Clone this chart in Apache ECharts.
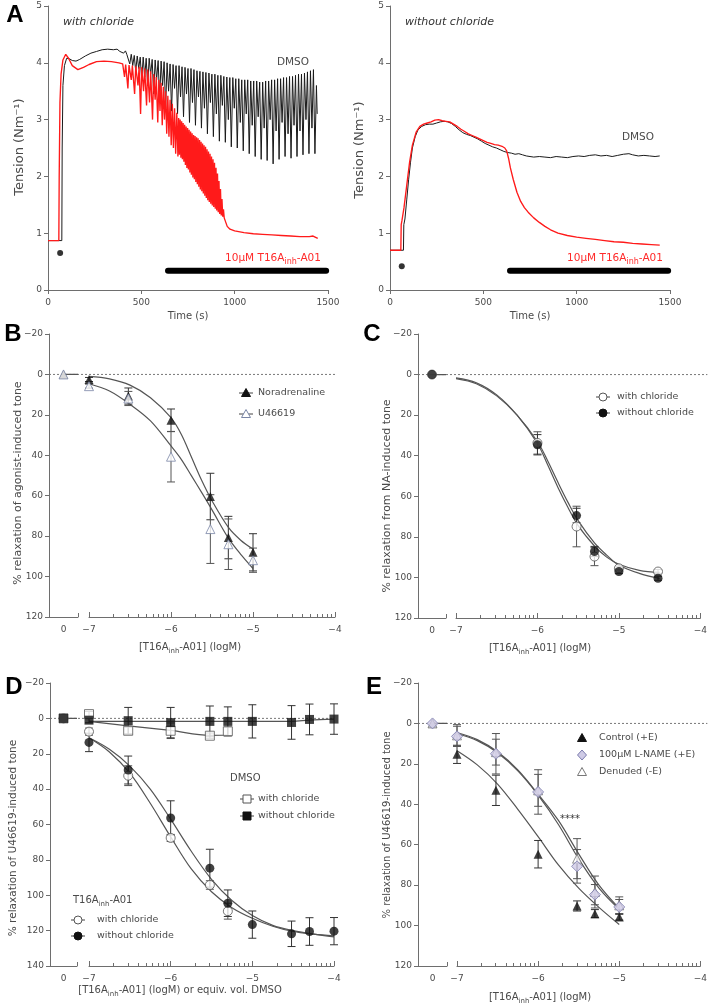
<!DOCTYPE html>
<html><head><meta charset="utf-8">
<script src="https://cdn.jsdelivr.net/npm/echarts@6/dist/echarts.min.js"></script>
<style>html,body{margin:0;padding:0;background:#fff}#c{width:710px;height:1004px}</style>
</head><body><div id="c"></div>
<script>
// ================= DATA =================
// Panel A: tension traces [time (s), tension (N/m)]
const dmsoWithCl = [[0,0.87],[74,0.87],[76,2.5],[80,3.6],[88,3.95],[100,4.08],[115,4.07],[130,4.04],[150,4.03],[170,4.06],[200,4.12],[230,4.17],[260,4.2],[290,4.23],[320,4.24],[350,4.23],[370,4.24],[385,4.2],[395,4.23],[405,4.17],[415,4.21],[422,4.15],
[430,4.16],[438,3.98],[446,4.15],[454,3.95],[462,4.13],[470,3.85],[478,4.12],[486,3.9],[494,4.1],[502,3.7],[510,4.1],[518,3.75],[526,4.08],[534,3.6],[542,4.08],[550,3.8],[558,4.06],[566,3.45],[574,4.05],[582,3.7],[590,4.04],[598,3.35],[606,4.03],[614,3.6],[622,4.02],[630,3.2],[638,4.0],[646,3.5],[654,3.98],[662,3.15],[670,3.97],[678,3.55],[686,3.95],[694,3.1],[702,3.95],[710,3.4],[718,3.93],[726,3.05],[734,3.92],[742,3.45],[750,3.9],[758,2.95],[766,3.9],[774,3.3],[782,3.88],[790,2.9],[798,3.86],[806,3.4],[814,3.85],[822,2.85],[830,3.84],[838,3.2],[846,3.83],[854,2.75],[862,3.82],[870,3.3],[878,3.8],[886,2.7],[894,3.8],[902,3.1],[910,3.78],[918,2.62],[926,3.78],[934,3.25],[942,3.76],[950,2.6],[958,3.75],[966,3.0],[974,3.74],[982,2.52],[990,3.74],[998,3.2],[1006,3.72],[1014,2.5],[1022,3.72],[1030,2.95],[1038,3.7],[1046,2.45],[1054,3.7],[1062,3.1],[1070,3.7],[1078,2.4],[1086,3.68],[1094,2.9],[1102,3.68],[1110,2.35],[1118,3.68],[1126,3.05],[1134,3.66],[1142,2.3],[1150,3.66],[1158,2.85],[1166,3.68],[1174,2.28],[1182,3.68],[1190,3.0],[1198,3.7],[1206,2.22],[1214,3.7],[1222,2.8],[1230,3.72],[1238,2.3],[1246,3.72],[1254,2.95],[1262,3.74],[1270,2.35],[1278,3.74],[1286,2.75],[1294,3.76],[1302,2.32],[1310,3.76],[1318,2.9],[1326,3.78],[1334,2.35],[1342,3.8],[1350,2.8],[1358,3.8],[1366,2.38],[1374,3.82],[1382,3.0],[1390,3.84],[1398,2.4],[1406,3.86],[1414,2.85],[1422,3.88],[1430,2.4],[1438,3.6],[1442,3.1]];
const inhWithCl = [[0,0.87],[58,0.87],[60,2.0],[64,3.3],[70,3.8],[80,4.05],[95,4.15],[110,4.08],[130,3.95],[160,3.88],[190,3.92],[220,3.97],[260,4.02],[300,4.03],[340,4.02],[380,4.0],[400,3.98],
[410,3.75],[416,3.97],[428,3.55],[434,3.96],[446,3.7],[452,3.95],[464,3.45],[470,3.94],[482,3.6],[488,3.93],[496,3.1],[502,3.92],[512,3.5],[518,3.9],[528,3.25],[534,3.88],[544,3.3],[550,3.85],[560,3.0],[566,3.8],[574,3.35],[580,3.75],[588,2.95],[594,3.7],[600,3.15],[606,3.65],[612,2.9],[618,3.58],[624,3.0],[630,3.5],[636,2.75],[642,3.42],[648,2.7],[654,3.35],[660,2.55],[666,3.28],[672,2.5],[678,3.2],[684,2.4],[690,3.12],[696,2.35],
[700,3.03],[704,2.38],[708,3.0],[712,2.33],[716,2.97],[720,2.3],[724,2.94],[728,2.26],[732,2.91],[736,2.2],[740,2.88],[744,2.15],[748,2.85],[752,2.12],[756,2.82],[760,2.07],[764,2.79],[768,2.03],[772,2.76],[776,1.98],[780,2.73],[784,1.95],[788,2.71],[792,1.9],[796,2.69],[800,1.86],[804,2.67],[808,1.82],[812,2.64],[816,1.77],[820,2.61],[824,1.74],[828,2.58],[832,1.7],[836,2.55],[840,1.66],[844,2.52],[848,1.62],[852,2.48],[856,1.58],[860,2.44],[864,1.55],[868,2.4],[872,1.52],[876,2.35],[880,1.49],[884,2.3],[888,1.46],[892,2.24],[896,1.43],[900,2.15],[904,1.4],[908,2.05],[912,1.37],[916,1.92],[920,1.34],[924,1.78],[928,1.31],[932,1.6],[936,1.29],[940,1.42],[944,1.27],[948,1.25],
[960,1.12],[975,1.07],[1000,1.04],[1050,1.01],[1100,0.99],[1150,0.98],[1200,0.97],[1250,0.96],[1300,0.95],[1350,0.94],[1400,0.94],[1420,0.95],[1430,0.93],[1445,0.91]];
const dmsoNoCl = [[0,0.7],[72,0.7],[74,1.15],[80,1.25],[90,1.6],[100,1.95],[110,2.25],[120,2.5],[135,2.7],[150,2.82],[170,2.88],[190,2.91],[210,2.92],[230,2.92],[250,2.94],[270,2.96],[290,2.97],[310,2.96],[330,2.93],[350,2.88],[370,2.82],[390,2.77],[410,2.74],[430,2.72],[450,2.69],[470,2.66],[490,2.62],[510,2.58],[530,2.55],[550,2.52],[570,2.5],[590,2.47],[610,2.44],[630,2.42],[650,2.41],[670,2.39],[690,2.4],[710,2.38],[730,2.36],[750,2.35],[770,2.34],[800,2.35],[830,2.34],[860,2.33],[890,2.35],[920,2.34],[950,2.33],[980,2.35],[1010,2.36],[1040,2.35],[1070,2.37],[1100,2.38],[1130,2.36],[1160,2.37],[1190,2.35],[1220,2.37],[1250,2.39],[1280,2.4],[1300,2.38],[1330,2.36],[1360,2.37],[1390,2.36],[1420,2.35],[1445,2.36]];
const inhNoCl = [[0,0.7],[58,0.7],[60,1.15],[64,1.22],[75,1.45],[90,1.85],[105,2.25],[120,2.55],[140,2.78],[160,2.88],[180,2.92],[200,2.94],[220,2.96],[240,2.99],[260,3.0],[280,2.98],[300,2.97],[320,2.96],[340,2.92],[360,2.88],[380,2.83],[400,2.79],[420,2.75],[440,2.72],[460,2.69],[480,2.66],[500,2.63],[520,2.6],[540,2.58],[560,2.56],[580,2.55],[600,2.53],[615,2.5],[625,2.45],[635,2.32],[645,2.15],[660,1.95],[680,1.72],[700,1.56],[720,1.45],[740,1.37],[770,1.27],[800,1.19],[830,1.12],[860,1.06],[900,1.0],[950,0.96],[1000,0.93],[1050,0.91],[1100,0.89],[1150,0.87],[1200,0.85],[1250,0.84],[1300,0.82],[1350,0.81],[1400,0.8],[1445,0.79]];
const stimWithCl = [[65,0.65]];
const stimNoCl = [[63,0.42]];
const inhBarWithCl = [[643,0.34],[1490,0.34]];
const inhBarNoCl = [[643,0.34],[1490,0.34]];

// Panel B
const doseB = [-7,-6.52,-6,-5.52,-5.3,-5];
const naMean = [2.5,10.7,22.7,60.4,80.7,88];
const naSem = [1,4,5.6,11.5,10.5,9.2];
const u4Mean = [5.8,11.9,40.7,76.5,84,91.9];
const u4Sem = [1,3.5,12.5,17,12.5,6];
const zeroB = [0,0];
const naFit = [[-7,1],[-6.75,2.2],[-6.5,5.3],[-6.25,11.5],[-6,21.4],[-5.875,29.6],[-5.75,41],[-5.625,52.5],[-5.5,62.5],[-5.3,75.7],[-5.15,82],[-5,86.4]];
const u4Fit = [[-7,4.6],[-6.75,8.2],[-6.5,14.8],[-6.25,23],[-6,35.4],[-5.875,42],[-5.75,50.2],[-5.625,58.5],[-5.5,67],[-5.3,81],[-5.15,89],[-5,96]];

// Panel C
const doseC = [-6,-5.52,-5.3,-5,-4.52];
const cWithMean = [33.7,74.9,89.7,95.5,97.1];
const cWithSem = [5.5,10,4.5,1,1];
const cWithoutMean = [34.6,69.5,87.2,97.1,100.4];
const cWithoutSem = [5,3.6,2.5,1,1];
const zeroC = [0,0];
const cWithFit = [[-7,1.6],[-6.75,4],[-6.5,10],[-6.25,20],[-6,34],[-5.875,44.5],[-5.75,55.5],[-5.625,65.5],[-5.5,74.5],[-5.3,84.5],[-5.15,90],[-5,93.5],[-4.75,96.5],[-4.5,97.5]];
const cWithoutFit = [[-7,2],[-6.75,4.5],[-6.5,10.5],[-6.25,20],[-6,33],[-5.875,42.5],[-5.75,53],[-5.625,63],[-5.5,72],[-5.3,83],[-5.15,89],[-5,94],[-4.75,98],[-4.5,100.5]];

// Panel D
const doseDshort = [-7,-6.52,-6,-5.52,-5.3];
const doseDlong = [-7,-6.52,-6,-5.52,-5.3,-5,-4.52,-4.3,-4];
const dmsoWithMean = [-2.4,7,7,9.8,7.3];
const dmsoWithSem = [1.5,2,4.4,1.5,2.4];
const dmsoWithoutMean = [1,1.3,2.4,1.7,1.7,1.7,2.3,0.6,0.4];
const dmsoWithoutSem = [1.5,7.5,8.6,8.7,8.2,9.4,9.5,8.7,8.6];
const inhWithMean = [7.5,32.4,67.6,94.2,109];
const inhWithSem = [2,5.6,2,2.4,4.5];
const inhWithoutMean = [13.6,29.2,56.3,84.7,104.5,116.6,121.8,120.5,120.3];
const inhWithoutSem = [5.2,7.9,9.7,10.7,7.5,7.7,7.2,7.8,7.7];
const zeroD = [0,0,0,0];
const dmsoWithLine = [[-7,1.7],[-6.52,4.2],[-6,6.8],[-5.52,9.6],[-5.3,9.4]];
const dmsoWithoutLine = [[-7,1.7],[-6,1.7],[-5,1.7],[-4.52,1.7],[-4.3,1.0],[-4,0.4]];
const inhWithFit = [[-7,11],[-6.75,19],[-6.5,31],[-6.25,48],[-6,67],[-5.75,85],[-5.5,98],[-5.25,107],[-5,113],[-4.75,117.5],[-4.5,120.5],[-4.25,122],[-4,123]];
const inhWithoutFit = [[-7,11],[-6.75,17.5],[-6.5,27],[-6.25,40],[-6,57],[-5.75,75],[-5.5,91],[-5.25,103],[-5,111.5],[-4.75,117],[-4.5,120],[-4.25,122],[-4,123.5]];

// Panel E
const doseE = [-7,-6.52,-6,-5.52,-5.3,-5];
const ctrlMean = [15.3,33.1,64.7,90.3,94.1,95.7];
const ctrlSem = [4.5,7.5,6.8,2.5,2,1.6];
const lnameMean = [6.4,15,33.9,70.7,84.7,90.8];
const lnameSem = [5,10,11,8.3,5,3.7];
const denMean = [5.9,14.2,33.1,66.9,83.4,90];
const denSem = [5.3,6.4,7.9,9.9,7.9,4.2];
const zeroE = [0,0,0];
const ctrlFit = [[-7,13.5],[-6.75,20.5],[-6.5,30],[-6.25,42.5],[-6,56],[-5.75,70],[-5.5,81.5],[-5.25,91],[-5,99.5]];
const lnameFit = [[-7,4.5],[-6.75,8],[-6.5,14],[-6.25,23],[-6,35],[-5.75,48],[-5.5,64.5],[-5.25,80],[-5,91.5]];
const denFit = [[-7,5],[-6.75,8.5],[-6.5,14.5],[-6.25,23.5],[-6,35.5],[-5.75,50],[-5.5,67],[-5.25,81.5],[-5,92]];

// ================= CHART =================
const chart = echarts.init(document.getElementById('c'));
const FONT = 'DejaVu Sans';
const AXC = '#6e6e6e', TXC = '#4a4a4a', CURVE = '#555';
const fmt = v => String(v).replace('-', '\u2212');
const LBL = {color:TXC, fontSize:9, fontFamily:FONT, formatter:fmt, margin:6};
const minorTicks = [];
[-7,-6,-5].forEach(d => { for (let k = 2; k <= 9; k++) minorTicks.push(d + Math.log10(k)); });

const grids = [], xAxis = [], yAxis = [], series = [], graphics = [];

function axis(o){
  return Object.assign({type:'value', splitLine:{show:false},
    axisLine:{show:true, onZero:false, lineStyle:{color:AXC, width:1}},
    axisTick:{show:true, length:4, lineStyle:{color:AXC}},
    axisLabel:Object.assign({}, LBL)}, o);
}

// ---- Panel A ----
function panelA(left, dmso, inh, stim, bar){
  const g = grids.push({left, top:6, width:280, height:284}) - 1;
  const xi = xAxis.push(axis({gridIndex:g, position:'bottom', min:0, max:1500, interval:500, axisLabel:Object.assign({}, LBL, {margin:8})})) - 1;
  const yi = yAxis.push(axis({gridIndex:g, position:'left', min:0, max:5, interval:1})) - 1;
  series.push({type:'line', xAxisIndex:xi, yAxisIndex:yi, data:dmso, symbol:'none', lineStyle:{color:'#1a1a1a', width:1}, silent:true, z:2});
  series.push({type:'line', xAxisIndex:xi, yAxisIndex:yi, data:inh, symbol:'none', lineStyle:{color:'#ff1a1a', width:1.35}, silent:true, z:3});
  series.push({type:'scatter', xAxisIndex:xi, yAxisIndex:yi, data:stim, symbol:'circle', symbolSize:6, itemStyle:{color:'#000'}, silent:true});
  series.push({type:'line', xAxisIndex:xi, yAxisIndex:yi, data:bar, symbol:'none', lineStyle:{color:'#000', width:6, cap:'round'}, silent:true});
}
panelA(48, dmsoWithCl, inhWithCl, stimWithCl, inhBarWithCl);
panelA(390, dmsoNoCl, inhNoCl, stimNoCl, inhBarNoCl);

// ---- Dose-response panels ----
const drPanels = [];
function drPanel(p){
  const h = p.bottom - p.top;
  const gl = grids.push({left:p.l0, width:p.l1 - p.l0, top:p.top, height:h}) - 1;
  const gm = grids.push({left:p.m0, width:p.m1 - p.m0, top:p.top, height:h}) - 1;
  const xl = xAxis.push(axis({gridIndex:gl, position:'bottom', min:-1, max:1,
    axisTick:{show:true, inside:true, length:4, customValues:[1], lineStyle:{color:AXC}},
    axisLabel:Object.assign({}, LBL, {margin:8, customValues:[0], formatter:() => '0'})})) - 1;
  const xm = xAxis.push(axis({gridIndex:gm, position:'bottom', min:-7, max:-4, interval:1,
    axisTick:{show:true, inside:true, length:5, lineStyle:{color:AXC}},
    axisLabel:Object.assign({}, LBL, {margin:8})})) - 1;
  xAxis.push(axis({gridIndex:gm, position:'bottom', offset:0, min:-7, max:-4, axisLine:{show:false, onZero:false},
    axisTick:{show:true, inside:true, length:3, customValues:minorTicks, lineStyle:{color:AXC}},
    axisLabel:{show:false}}));
  const yl = yAxis.push(axis({gridIndex:gl, position:'left', min:p.ymin, max:p.ymax, interval:20, inverse:true})) - 1;
  const ym = yAxis.push({type:'value', gridIndex:gm, min:p.ymin, max:p.ymax, inverse:true, show:false}) - 1;
  series.push({type:'line', xAxisIndex:xl, yAxisIndex:yl, data:[[0,0],[1,0]], symbol:'none', lineStyle:{color:CURVE, width:1.2}, silent:true, z:2});
  const P = {xl, xm, yl, ym, ext:p.ext};
  drPanels.push(P);
  return P;
}
function curve(P, data, color){
  series.push({type:'line', xAxisIndex:P.xm, yAxisIndex:P.ym, data, smooth:0.35, symbol:'none', lineStyle:{color:color||CURVE, width:1.2}, silent:true, z:2});
}
function errBars(P, doses, means, sems, color){
  const data = doses.map((d, i) => [d, means[i] - sems[i], means[i] + sems[i]]);
  series.push({type:'custom', xAxisIndex:P.xm, yAxisIndex:P.ym, data, z:3, silent:true, encode:{x:0, y:[1,2]},
    renderItem(params, api){
      const x = api.value(0);
      const a = api.coord([x, api.value(1)]), b = api.coord([x, api.value(2)]);
      const w = 4, st = {stroke:color || '#333', lineWidth:1};
      return {type:'group', children:[
        {type:'line', shape:{x1:a[0], y1:a[1], x2:b[0], y2:b[1]}, style:st},
        {type:'line', shape:{x1:a[0]-w, y1:a[1], x2:a[0]+w, y2:a[1]}, style:st},
        {type:'line', shape:{x1:b[0]-w, y1:b[1], x2:b[0]+w, y2:b[1]}, style:st}]};
    }});
}
function points(P, doses, means, sym){
  series.push({type:'scatter', xAxisIndex:P.xm, yAxisIndex:P.ym, data:doses.map((d, i) => [d, means[i]]),
    symbol:sym.symbol, symbolSize:sym.size, itemStyle:sym.style, silent:true, z:4});
}
function zeroPoint(P, value, sym){
  series.push({type:'scatter', xAxisIndex:P.xl, yAxisIndex:P.yl, data:[[0, value]],
    symbol:sym.symbol, symbolSize:sym.size, itemStyle:sym.style, silent:true, z:4});
}
const S = {
  triF:{symbol:'triangle', size:9, style:{color:'#111'}},
  triO:{symbol:'triangle', size:9, style:{color:'#fff', borderColor:'#7a86a6', borderWidth:1}},
  triOg:{symbol:'triangle', size:9, style:{color:'#fff', borderColor:'#777', borderWidth:1}},
  cirF:{symbol:'circle', size:9, style:{color:'#111'}},
  cirO:{symbol:'circle', size:9, style:{color:'#fff', borderColor:'#555', borderWidth:1}},
  sqF:{symbol:'rect', size:9, style:{color:'#111'}},
  sqO:{symbol:'rect', size:9, style:{color:'#fff', borderColor:'#555', borderWidth:1}},
  dia:{symbol:'diamond', size:11, style:{color:'#cfcbe6', borderColor:'#7c7cae', borderWidth:1}}
};

// B
const B = drPanel({l0:49, l1:78, m0:89, m1:335, top:334, bottom:617, ymin:-20, ymax:120, ext:0});
curve(B, naFit); curve(B, u4Fit);
errBars(B, doseB, naMean, naSem); errBars(B, doseB, u4Mean, u4Sem, '#555');
points(B, doseB, naMean, S.triF); points(B, doseB, u4Mean, S.triO);
zeroPoint(B, zeroB[0], S.triF); zeroPoint(B, zeroB[1], S.triO);
// C
const C = drPanel({l0:418, l1:446, m0:456, m1:703, top:334, bottom:618, ymin:-20, ymax:120, ext:7});
curve(C, cWithFit); curve(C, cWithoutFit);
errBars(C, doseC, cWithMean, cWithSem, '#555'); errBars(C, doseC, cWithoutMean, cWithoutSem);
points(C, doseC, cWithMean, S.cirO); points(C, doseC, cWithoutMean, S.cirF);
zeroPoint(C, zeroC[0], S.cirO); zeroPoint(C, zeroC[1], S.cirF);
// D
const D = drPanel({l0:50, l1:77, m0:89, m1:334, top:683, bottom:966, ymin:-20, ymax:140, ext:0});
curve(D, dmsoWithLine); curve(D, dmsoWithoutLine); curve(D, inhWithFit); curve(D, inhWithoutFit);
errBars(D, doseDshort, dmsoWithMean, dmsoWithSem, '#555'); errBars(D, doseDlong, dmsoWithoutMean, dmsoWithoutSem);
errBars(D, doseDshort, inhWithMean, inhWithSem, '#555'); errBars(D, doseDlong, inhWithoutMean, inhWithoutSem);
points(D, doseDshort, dmsoWithMean, S.sqO); points(D, doseDlong, dmsoWithoutMean, S.sqF);
points(D, doseDshort, inhWithMean, S.cirO); points(D, doseDlong, inhWithoutMean, S.cirF);
zeroPoint(D, zeroD[2], S.cirO); zeroPoint(D, zeroD[3], S.cirF);
zeroPoint(D, zeroD[0], S.sqO); zeroPoint(D, zeroD[1], S.sqF);
// E
const E = drPanel({l0:418, l1:447, m0:457, m1:703, top:683, bottom:966, ymin:-20, ymax:120, ext:7});
curve(E, ctrlFit); curve(E, lnameFit); curve(E, denFit);
errBars(E, doseE, ctrlMean, ctrlSem); errBars(E, doseE, denMean, denSem, '#555'); errBars(E, doseE, lnameMean, lnameSem, '#555');
points(E, doseE, ctrlMean, S.triF); points(E, doseE, denMean, S.triOg); points(E, doseE, lnameMean, S.dia);
zeroPoint(E, zeroE[0], S.triF); zeroPoint(E, zeroE[2], S.triOg); zeroPoint(E, zeroE[1], S.dia);

// ---- text helpers ----
function txt(x, y, text, o){
  o = o || {};
  const size = o.size || 10;
  const st = {text, fill:o.color || TXC, fontSize:size, fontFamily:o.family || FONT,
    fontStyle:o.italic ? 'italic' : 'normal', fontWeight:o.bold ? 'bold' : 'normal',
    align:o.align || 'center', verticalAlign:'middle'};
  if (o.sub) {
    st.rich = {
      n:{fontSize:size, fontFamily:FONT, fill:o.color || TXC, lineHeight:size + 6, fontStyle:st.fontStyle},
      s:{fontSize:Math.round(size * 0.72), fontFamily:FONT, fill:o.color || TXC, lineHeight:size + 6, verticalAlign:'bottom'}
    };
  }
  graphics.push({type:'text', x, y, rotation:o.rot || 0, z:10, silent:true, style:st});
}
const T16 = '{n|[T16A}{s|inh}{n|-A01] (logM)}';

// panel letters
[['A',15,15],['B',13,334],['C',372,334],['D',14,687],['E',374,687]].forEach(l =>
  txt(l[1], l[2], l[0], {size:24, bold:true, color:'#000', family:'Liberation Sans'}));

// panel A texts
txt(63, 22, 'with chloride', {size:11, italic:true, color:'#333', align:'left'});
txt(405, 22, 'without chloride', {size:11, italic:true, color:'#333', align:'left'});
txt(293, 62, 'DMSO', {size:10.5});
txt(638, 137, 'DMSO', {size:10.5});
txt(273, 258, '{n|10µM T16A}{s|inh}{n|-A01}', {size:10.5, sub:true, color:'#ff2a2a'});
txt(615, 258, '{n|10µM T16A}{s|inh}{n|-A01}', {size:10.5, sub:true, color:'#ff2a2a'});
txt(20, 147, 'Tension (Nm\u207B\u00B9)', {size:13, rot:Math.PI/2});
txt(360, 150, 'Tension (Nm\u207B\u00B9)', {size:13, rot:Math.PI/2});
txt(188, 316, 'Time (s)', {size:10});
txt(530, 316, 'Time (s)', {size:10});

// axis titles B-E
txt(18, 483, '% relaxation of agonist-induced tone', {size:11, rot:Math.PI/2});
txt(387, 496, '% relaxation from NA-induced tone', {size:11, rot:Math.PI/2});
txt(13, 838, '% relaxation of U46619-induced tone', {size:10.5, rot:Math.PI/2});
txt(387, 825, '% relaxation of U46619-induced tone', {size:10, rot:Math.PI/2});
txt(190, 647, T16, {size:10, sub:true});
txt(540, 648, T16, {size:10, sub:true});
txt(180, 990, '{n|[T16A}{s|inh}{n|-A01] (logM) or equiv. vol. DMSO}', {size:10, sub:true});
txt(540, 997, T16, {size:10, sub:true});
txt(570, 819, '****', {size:10, color:'#333'});

// legends
function legSym(cx, cy, kind, o){
  o = o || {};
  const fill = o.fill || '#111', stroke = o.stroke || '#111';
  if (o.line) graphics.push({type:'line', z:10, silent:true, shape:{x1:cx - 7, y1:cy, x2:cx + 7, y2:cy}, style:{stroke:'#444', lineWidth:1}});
  const st = {fill, stroke, lineWidth:1};
  let el;
  if (kind === 'tri') el = {type:'polygon', shape:{points:[[cx, cy - 4.5], [cx + 4.5, cy + 3.5], [cx - 4.5, cy + 3.5]]}};
  else if (kind === 'cir') el = {type:'circle', shape:{cx, cy, r:4}};
  else if (kind === 'sq') el = {type:'rect', shape:{x:cx - 4, y:cy - 4, width:8, height:8}};
  else el = {type:'polygon', shape:{points:[[cx, cy - 5], [cx + 4.5, cy], [cx, cy + 5], [cx - 4.5, cy]]}};
  el.style = st; el.z = 11; el.silent = true;
  graphics.push(el);
}
const LG = {size:9.5, align:'left'};
legSym(246, 393, 'tri', {line:true}); txt(258, 393, 'Noradrenaline', LG);
legSym(246, 414, 'tri', {line:true, fill:'#fff', stroke:'#7a86a6'}); txt(258, 414, 'U46619', LG);
legSym(603, 397, 'cir', {line:true, fill:'#fff', stroke:'#555'}); txt(617, 397, 'with chloride', LG);
legSym(603, 413, 'cir', {line:true}); txt(617, 413, 'without chloride', LG);
txt(230, 778, 'DMSO', {size:10, align:'left'});
legSym(247, 799, 'sq', {line:true, fill:'#fff', stroke:'#555'}); txt(258, 799, 'with chloride', LG);
legSym(247, 816, 'sq', {line:true}); txt(258, 816, 'without chloride', LG);
txt(73, 900, '{n|T16A}{s|inh}{n|-A01}', {size:10, sub:true, align:'left'});
legSym(78, 920, 'cir', {line:true, fill:'#fff', stroke:'#555'}); txt(97, 920, 'with chloride', LG);
legSym(78, 936, 'cir', {line:true}); txt(97, 936, 'without chloride', LG);
legSym(582, 738, 'tri'); txt(599, 738, 'Control (+E)', LG);
legSym(582, 755, 'dia', {fill:'#cfcbe6', stroke:'#7c7cae'}); txt(599, 755, '100µM L-NAME (+E)', LG);
legSym(582, 772, 'tri', {fill:'#fff', stroke:'#777'}); txt(599, 772, 'Denuded (-E)', LG);

chart.setOption({animation:false, grid:grids, xAxis, yAxis, series});

// dotted zero reference lines, positioned through the axes' scales
drPanels.forEach(P => {
  const x1 = chart.convertToPixel({xAxisIndex:P.xl}, -1);
  const x2 = chart.convertToPixel({xAxisIndex:P.xm}, -4) + P.ext;
  const y = chart.convertToPixel({yAxisIndex:P.yl}, 0);
  graphics.push({type:'line', z:0, silent:true, shape:{x1, y1:y, x2, y2:y}, style:{stroke:'#777', lineWidth:1, lineDash:[2, 2]}});
});
chart.setOption({graphic:graphics});
</script></body></html>
